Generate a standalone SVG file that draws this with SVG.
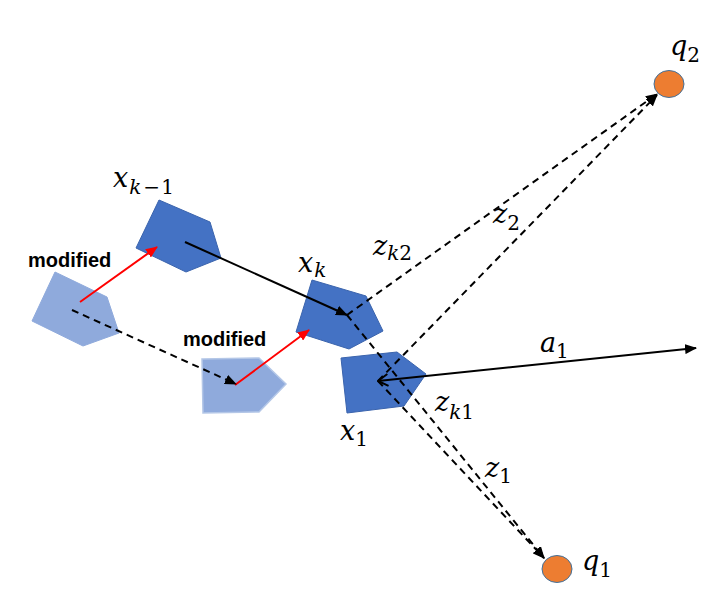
<svg xmlns="http://www.w3.org/2000/svg" width="724" height="600" viewBox="0 0 724 600">
<style>
.dark{fill:#4472C4;stroke:#3B64AD;stroke-width:1}
.light{fill:#8FAADC;stroke:#8FAADC;stroke-width:1}
.light2{fill:#8FAADC;stroke:#B4C7E7;stroke-width:1.5}
.q{fill:#ED7D31;stroke:#41719C;stroke-width:1}
.solid{stroke:#000;stroke-width:2;fill:none}
.dash{stroke:#000;stroke-width:2;fill:none;stroke-dasharray:7 5}
.red{stroke:#FF0000;stroke-width:2;fill:none}
.m{font-family:"DejaVu Serif","Liberation Serif",serif;font-style:italic;font-size:27px;fill:#000}
.s{font-size:20px}
.u{font-style:normal}
.mod{font-family:"Liberation Sans",Arial,sans-serif;font-weight:bold;font-size:20px;fill:#000}
</style>
<defs>
<marker id="ah" markerUnits="userSpaceOnUse" markerWidth="12" markerHeight="10" refX="11" refY="5" orient="auto"><path d="M0,0 L12,5 L0,10 Z" fill="#000"/></marker>
<marker id="ahr" markerUnits="userSpaceOnUse" markerWidth="12" markerHeight="10" refX="11" refY="5" orient="auto"><path d="M0,0 L12,5 L0,10 Z" fill="#FF0000"/></marker>
<marker id="open" markerUnits="userSpaceOnUse" markerWidth="14" markerHeight="14" refX="1" refY="7" orient="auto"><path d="M11,1 L1,7 L11,13" fill="none" stroke="#000" stroke-width="2"/></marker>
</defs>

<g id="node-light1"><polygon class="light" points="55,272 107,297 119,333 83,346 32,321"/></g>
<g id="node-light2"><polygon class="light2" points="202,359 259,358 286,384 259,412 203,413"/></g>
<g id="node-xk1"><polygon class="dark" points="159,200 210,222 221,258 186,272 136,248"/></g>
<g id="node-xk"><polygon class="dark" points="312,280 366,296 383,331 349,349 296,332"/></g>
<g id="node-x1"><polygon class="dark" points="341,358 397,352 426,374 404,406 347,413"/></g>
<g id="node-q2"><ellipse class="q" cx="669" cy="84" rx="15" ry="13.5"/></g>
<g id="node-q1"><ellipse class="q" cx="557" cy="569" rx="15" ry="13.5"/></g>

<g id="connectors">
<line class="solid" x1="185" y1="242" x2="347" y2="315" marker-end="url(#ah)"/>
<line class="red" x1="80" y1="302" x2="157" y2="247" marker-end="url(#ahr)"/>
<line class="red" x1="235" y1="385" x2="309" y2="330" marker-end="url(#ahr)"/>
<line class="dash" x1="72" y1="310" x2="236" y2="384" marker-end="url(#ah)"/>
<line class="dash" x1="347" y1="315" x2="657" y2="94" marker-end="url(#ah)"/>
<line class="dash" x1="378" y1="381" x2="657" y2="95" marker-end="url(#ah)"/>
<line class="dash" x1="347" y1="315" x2="544" y2="558" marker-end="url(#ah)"/>
<line class="dash" x1="378" y1="381" x2="544" y2="558" marker-end="url(#ah)"/>
<line class="solid" x1="378" y1="381" x2="696" y2="348" marker-start="url(#open)" marker-end="url(#ah)"/>
</g>

<g id="labels">
<text class="mod" x="28" y="267">modified</text>
<text class="mod" x="183" y="346">modified</text>
<text class="m" x="113" y="187">x<tspan class="s" dy="7" dx="1">k</tspan><tspan class="s u" dx="2">−</tspan><tspan class="s u" dx="1">1</tspan></text>
<text class="m" x="298" y="272">x<tspan class="s" dy="5" dx="1">k</tspan></text>
<text class="m" x="373" y="255">z<tspan class="s" dy="5">k</tspan><tspan class="s u">2</tspan></text>
<text class="m" x="493" y="223">z<tspan class="s u" dy="7">2</tspan></text>
<text class="m" x="670" y="55">q<tspan class="s u" dy="7">2</tspan></text>
<text class="m" x="540" y="352">a<tspan class="s u" dy="6">1</tspan></text>
<text class="m" x="435" y="411">z<tspan class="s" dy="8">k</tspan><tspan class="s u">1</tspan></text>
<text class="m" x="485" y="477">z<tspan class="s u" dy="6">1</tspan></text>
<text class="m" x="340" y="440">x<tspan class="s u" dy="6">1</tspan></text>
<text class="m" x="582" y="570">q<tspan class="s u" dy="7">1</tspan></text>
</g>
</svg>
